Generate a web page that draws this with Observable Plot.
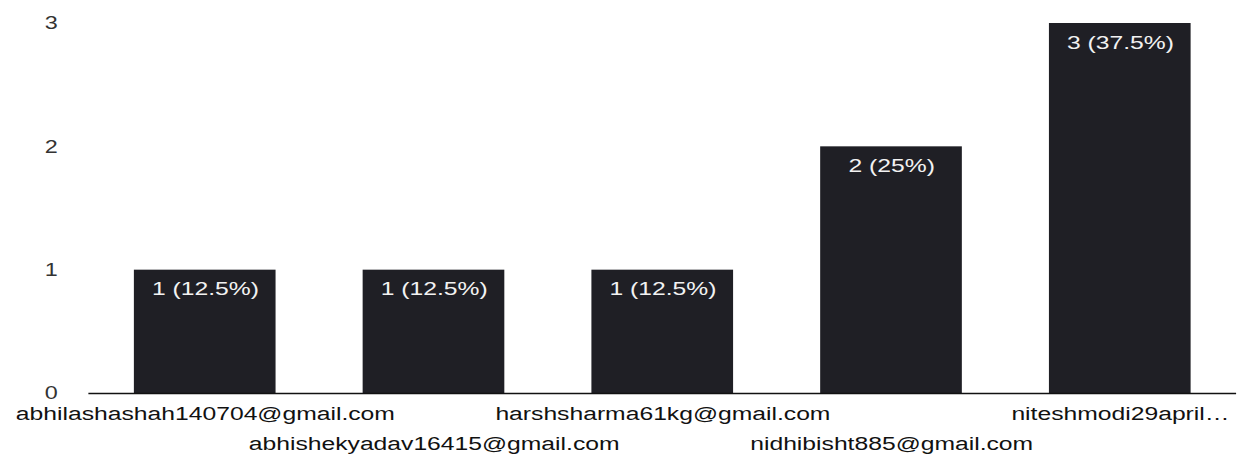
<!DOCTYPE html>
<html>
<head>
<meta charset="utf-8">
<script src="https://cdn.jsdelivr.net/npm/d3@7"></script>
<script src="https://cdn.jsdelivr.net/npm/@observablehq/plot@0.6"></script>
<style>
  html, body { margin: 0; padding: 0; background: #fff; }
  #chart { width: 1240px; height: 475px; overflow: hidden; }
</style>
</head>
<body>
<div id="chart"></div>
<script>
// Data
const categories = [
  "abhilashashah140704@gmail.com",
  "abhishekyadav16415@gmail.com",
  "harshsharma61kg@gmail.com",
  "nidhibisht885@gmail.com",
  "niteshmodi29april…"
];
const counts = [1, 1, 1, 2, 3];
const percents = ["12.5%", "12.5%", "12.5%", "25%", "37.5%"];
const yTicks = [0, 1, 2, 3];

const data = categories.map((c, i) => ({
  name: c,
  value: counts[i],
  label: `${counts[i]} (${percents[i]})`
}));

const rowA = categories.filter((d, i) => i % 2 === 0);
const rowB = categories.filter((d, i) => i % 2 === 1);

// The reference is a horizontally stretched photo; draw in a narrower
// coordinate space and stretch the SVG to 1240px wide.
const STRETCH = 1.3;
const W = Math.round(1240 / STRETCH);
const H = 475;
const font = "'Liberation Sans', Arial, sans-serif";

const svg = Plot.plot({
  width: W,
  height: H,
  marginLeft: 68,
  marginRight: 3,
  marginTop: 23,
  marginBottom: 82,
  style: { fontFamily: font, background: "#fff", color: "#111" },
  x: { domain: categories, paddingInner: 0.38, paddingOuter: 0.19 },
  y: { domain: [0, 3] },
  marks: [
    Plot.barY(data, { x: "name", y: "value", fill: "#1f1f25" }),
    Plot.text(data, {
      x: "name", y: "value", text: "label",
      dy: 19, fill: "#f2f2f2", fontSize: 19, lineAnchor: "middle"
    }),
    Plot.ruleY([0], { stroke: "#111", strokeWidth: 1.5 }),
    Plot.axisY(yTicks, {
      tickSize: 0, tickPadding: 24, fontSize: 18, fill: "#333",
      tickFormat: "d", label: null
    }),
    Plot.axisX(rowA, {
      tickSize: 0, tickPadding: 13, fontSize: 19, fill: "#111", label: null
    }),
    Plot.axisX(rowB, {
      tickSize: 0, tickPadding: 43, fontSize: 19, fill: "#111", label: null
    })
  ]
});

svg.setAttribute("preserveAspectRatio", "none");
svg.setAttribute("width", 1240);
svg.setAttribute("height", H);
svg.style.width = "1240px";
svg.style.height = H + "px";
svg.style.maxWidth = "none";
document.getElementById("chart").appendChild(svg);
</script>
</body>
</html>
